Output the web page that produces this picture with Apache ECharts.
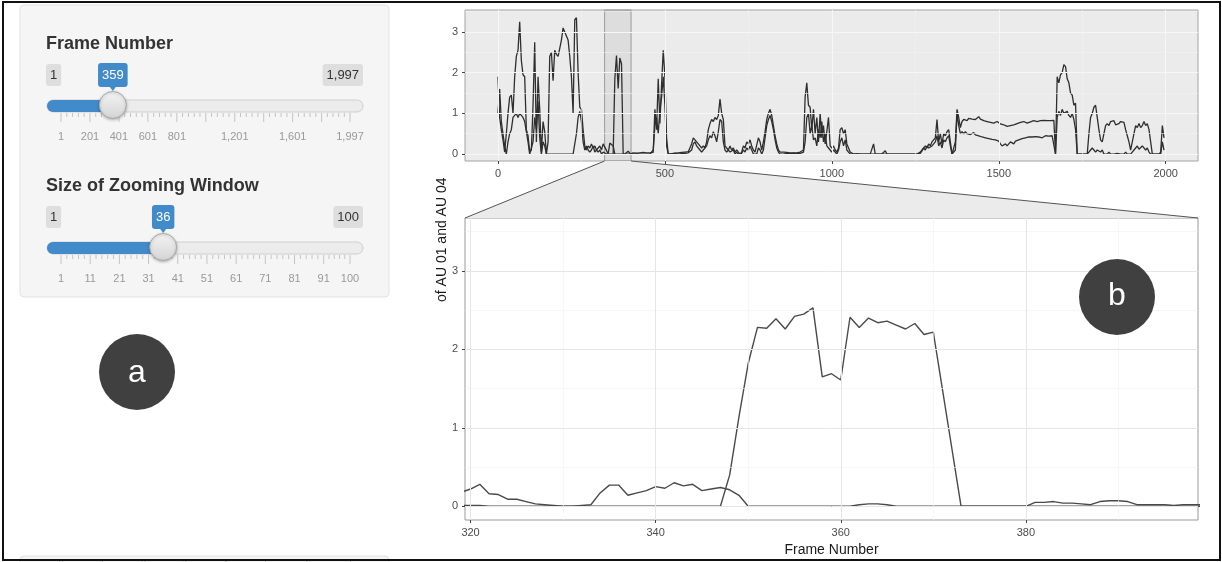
<!DOCTYPE html>
<html>
<head>
<meta charset="utf-8">
<title>AU 01 and AU 04 - zoom view</title>
<script src="https://cdn.jsdelivr.net/npm/echarts@6.0.0/dist/echarts.min.js"></script>
<style>
  html, body { margin: 0; padding: 0; background: #fff; }
  #chart { width: 1222px; height: 562px; }
</style>
</head>
<body>
<div id="chart"></div>
<script>
// overview: one reading every 5 frames
const ovStart = 0
const ovStep = 5
const au01Overview = [
  1.9, 0.9, 0.6, 0.35, 0.05, 0.5, 1.0, 1.4, 1.45, 1.0, 1.9, 2.4, 2.55, 3.25, 2.3, 1.95, 1.9, 0.6, 0.45, 0.05,
  0.1, 1.2, 2.75, 0.3, 1.9, 1.1, 0.05, 0.8, 0.55, 0.0, 0.3, 2.4, 2.5, 1.8, 2.55, 2.45, 2.4, 2.6, 2.8, 3.1,
  3.0, 2.9, 2.8, 2.4, 1.9, 1.0, 3.3, 3.35, 2.0, 1.15, 1.1, 0.6, 0.2, 0.1, 0.2, 0.15, 0.25, 0.15, 0.2, 0.1,
  0.05, 0.1, 0.0, 0.05, 0.01, 0.0, 0.0, 0.0, 0.0, 0.0, 1.85, 2.42, 1.61, 2.36, 2.22, 0.0, 0.0, 0.0, 0.0, 0.0,
  0.02, 0.03, 0.0, 0.02, 0.05, 0.03, 0.02, 0.04, 0.02, 0.03, 0.05, 0.03, 0.06, 0.04, 1.1, 0.6, 1.85, 0.75, 1.7, 2.55,
  1.9, 0.4, 0.0, 0.02, 0.0, 0.03, 0.02, 0.0, 0.03, 0.02, 0.04, 0.03, 0.05, 0.03, 0.06, 0.05, 0.25, 0.4, 0.35, 0.3,
  0.3, 0.2, 0.15, 0.2, 0.15, 0.3, 0.6, 0.75, 0.85, 0.8, 0.9, 0.85, 0.95, 1.35, 1.0, 0.85, 0.2, 0.15, 0.1, 0.2,
  0.1, 0.15, 0.05, 0.1, 0.05, 0.0, 0.05, 0.2, 0.15, 0.3, 0.25, 0.35, 0.2, 0.1, 0.05, 0.05, 0.4, 0.3, 0.1, 0.3,
  0.55, 0.85, 1.0, 1.1, 0.95, 0.7, 0.45, 0.25, 0.1, 0.05, 0.03, 0.05, 0.02, 0.04, 0.02, 0.03, 0.02, 0.03, 0.05, 0.03,
  0.03, 0.05, 0.02, 0.1, 1.4, 1.75, 1.2, 1.15, 0.6, 1.1, 0.5, 0.9, 0.3, 1.0, 0.4, 0.7, 0.25, 0.55, 0.9, 0.2,
  0.15, 0.2, 0.1, 0.05, 0.15, 0.6, 0.65, 0.5, 0.6, 0.25, 0.15, 0.05, 0.02, 0.0, 0.0, 0.01, 0.0, 0.0, 0.0, 0.0,
  0.0, 0.0, 0.0, 0.0, 0.0, 0.25, 0.0, 0.0, 0.0, 0.0, 0.0, 0.0, 0.08, 0.0, 0.0, 0.0, 0.0, 0.0, 0.0, 0.0,
  0.0, 0.0, 0.0, 0.0, 0.0, 0.0, 0.0, 0.0, 0.0, 0.0, 0.0, 0.0, 0.0, 0.05, 0.1, 0.12, 0.2, 0.15, 0.25, 0.2,
  0.3, 0.35, 0.4, 0.85, 0.3, 0.5, 0.25, 0.5, 0.45, 0.55, 0.6, 0.3, 0.0, 0.0, 0.3, 1.1, 0.9, 0.65, 0.8, 0.85,
  0.85, 0.82, 0.88, 0.84, 0.86, 0.9, 0.85, 0.88, 0.92, 0.86, 0.84, 0.82, 0.86, 0.8, 0.83, 0.78, 0.8, 0.76, 0.78, 0.8,
  0.78, 0.74, 0.76, 0.72, 0.7, 0.68, 0.72, 0.7, 0.74, 0.72, 0.7, 0.75, 0.73, 0.78, 0.75, 0.8, 0.78, 0.76, 0.8, 0.79,
  0.8, 0.82, 0.78, 0.8, 0.84, 0.82, 0.8, 0.83, 0.85, 0.82, 0.84, 0.82, 0.85, 0.83, 0.0, 1.9, 1.75, 1.95, 2.0, 2.2,
  2.15, 1.85, 1.75, 1.5, 1.45, 1.2, 1.25, 0.0, 0.0, 0.0, 0.0, 0.0, 0.0, 0.0, 0.5, 0.9, 1.0, 1.15, 1.2, 0.9,
  0.6, 0.35, 0.3, 0.5, 0.7, 0.75, 0.7, 0.8, 0.78, 0.82, 0.72, 0.7, 0.75, 0.8, 0.82, 0.78, 0.6, 0.45, 0.3, 0.1,
  0.1, 0.5, 0.7, 0.65, 0.75, 0.65, 0.7, 0.8, 0.7, 0.75, 0.6, 0.3, 0.0, 0.0, 0.0, 0.0, 0.0, 0.05, 0.7, 0.4
]
const au04Overview = [
  1.0, 1.6, 0.8, 0.5, 0.2, 0.0, 0.3, 0.5, 0.6, 0.9, 0.95, 1.0, 0.9, 1.0, 0.95, 0.9, 0.8, 0.55, 0.3, 0.0,
  0.0, 0.3, 0.9, 0.6, 1.3, 0.4, 0.0, 0.3, 0.2, 0.0, 0.0, 0.0, 0.0, 0.0, 0.0, 0.0, 0.0, 0.0, 0.0, 0.0,
  0.0, 0.0, 0.0, 0.0, 0.0, 0.0, 0.0, 0.5, 0.9, 1.05, 0.8, 0.3, 0.1, 0.2, 0.1, 0.05, 0.1, 0.2, 0.05, 0.1,
  0.15, 0.2, 0.1, 0.25, 0.22, 0.09, 0.0, 0.27, 0.25, 0.2, 0.0, 0.0, 0.0, 0.02, 0.0, 0.0, 0.0, 0.04, 0.07, 0.02,
  0.0, 0.0, 0.0, 0.0, 0.0, 0.0, 0.0, 0.0, 0.0, 0.0, 0.0, 0.0, 0.02, 0.1, 0.7, 0.9, 0.5, 1.1, 1.4, 1.9,
  1.2, 0.2, 0.0, 0.0, 0.01, 0.0, 0.02, 0.0, 0.0, 0.03, 0.01, 0.0, 0.02, 0.0, 0.03, 0.02, 0.1, 0.25, 0.3, 0.2,
  0.2, 0.1, 0.05, 0.1, 0.1, 0.2, 0.35, 0.45, 0.4, 0.55, 0.45, 0.3, 0.55, 0.85, 0.8, 0.3, 0.1, 0.05, 0.1, 0.05,
  0.05, 0.1, 0.0, 0.05, 0.0, 0.0, 0.02, 0.1, 0.05, 0.15, 0.1, 0.2, 0.1, 0.0, 0.0, 0.0, 0.15, 0.1, 0.0, 0.1,
  0.4, 0.7, 0.85, 0.95, 0.8, 0.6, 0.35, 0.15, 0.05, 0.0, 0.02, 0.0, 0.01, 0.02, 0.0, 0.01, 0.0, 0.02, 0.0, 0.01,
  0.0, 0.02, 0.0, 0.05, 0.3, 0.9, 1.0, 0.5, 0.7, 0.35, 0.4, 0.2, 0.6, 0.4, 0.8, 0.3, 0.5, 0.2, 0.15, 0.1,
  0.05, 0.1, 0.05, 0.0, 0.1, 0.3, 0.4, 0.2, 0.35, 0.1, 0.05, 0.0, 0.0, 0.0, 0.0, 0.0, 0.0, 0.0, 0.0, 0.0,
  0.0, 0.0, 0.0, 0.0, 0.0, 0.0, 0.0, 0.0, 0.0, 0.0, 0.0, 0.0, 0.0, 0.0, 0.0, 0.0, 0.0, 0.0, 0.0, 0.0,
  0.0, 0.0, 0.0, 0.0, 0.0, 0.0, 0.0, 0.0, 0.0, 0.0, 0.0, 0.0, 0.0, 0.02, 0.08, 0.15, 0.1, 0.2, 0.15, 0.18,
  0.2, 0.25, 0.3, 0.45, 0.2, 0.3, 0.15, 0.35, 0.3, 0.4, 0.45, 0.2, 0.0, 0.0, 0.1, 1.0, 0.7, 0.5, 0.55, 0.5,
  0.55, 0.5, 0.52, 0.48, 0.5, 0.53, 0.47, 0.5, 0.45, 0.47, 0.42, 0.45, 0.4, 0.43, 0.38, 0.4, 0.36, 0.38, 0.35, 0.37,
  0.32, 0.25, 0.2, 0.18, 0.25, 0.2, 0.25, 0.3, 0.28, 0.25, 0.32, 0.3, 0.35, 0.32, 0.38, 0.35, 0.4, 0.38, 0.42, 0.4,
  0.42, 0.4, 0.43, 0.45, 0.42, 0.44, 0.4, 0.43, 0.45, 0.42, 0.44, 0.46, 0.45, 0.43, 0.0, 0.9, 1.05, 0.95, 1.1, 1.0,
  1.0, 1.05, 0.95, 0.9, 1.0, 0.85, 0.6, 0.0, 0.0, 0.0, 0.0, 0.0, 0.0, 0.0, 0.05, 0.1, 0.15, 0.1, 0.05, 0.1,
  0.1, 0.05, 0.1, 0.0, 0.02, 0.0, 0.05, 0.0, 0.02, 0.0, 0.0, 0.02, 0.0, 0.0, 0.02, 0.0, 0.05, 0.0, 0.02, 0.0,
  0.05, 0.1, 0.15, 0.2, 0.12, 0.15, 0.2, 0.18, 0.1, 0.15, 0.05, 0.0, 0.0, 0.0, 0.0, 0.0, 0.0, 0.0, 0.3, 0.1
]

// zoomed window: one reading per frame, frames 319..399
const zoomStart = 319
const au01Zoom = [
  0.01, 0.01, 0.01, 0.0, 0.0, 0.0, 0.0, 0.0, 0.0, 0.0,
  0.0, 0.0, 0.0, 0.0, 0.0, 0.0, 0.0, 0.0, 0.0, 0.0,
  0.0, 0.0, 0.0, 0.0, 0.0, 0.0, 0.0, 0.0, 0.0, 0.4,
  1.14, 1.82, 2.28, 2.27, 2.39, 2.26, 2.42, 2.45, 2.53, 1.65,
  1.69, 1.61, 2.41, 2.28, 2.4, 2.34, 2.36, 2.31, 2.26, 2.33,
  2.19, 2.22, 1.48, 0.74, 0.0, 0.0, 0.0, 0.0, 0.0, 0.0,
  0.0, 0.0, 0.0, 0.0, 0.0, 0.0, 0.0, 0.0, 0.0, 0.0,
  0.0, 0.0, 0.0, 0.0, 0.0, 0.0, 0.0, 0.0, 0.0, 0.0, 0.0
]
const au04Zoom = [
  0.18, 0.22, 0.28, 0.16, 0.15, 0.09, 0.09, 0.06, 0.03, 0.02,
  0.01, 0.0, 0.0, 0.01, 0.02, 0.17, 0.27, 0.27, 0.14, 0.17,
  0.2, 0.25, 0.23, 0.3, 0.26, 0.28, 0.2, 0.22, 0.24, 0.21,
  0.14, 0.0, 0.0, 0.0, 0.0, 0.0, 0.0, 0.0, 0.0, 0.0,
  0.0, 0.0, 0.0, 0.02, 0.03, 0.03, 0.02, 0.0, 0.0, 0.0,
  0.0, 0.0, 0.0, 0.0, 0.0, 0.0, 0.0, 0.0, 0.0, 0.0,
  0.0, 0.0, 0.05, 0.05, 0.06, 0.04, 0.04, 0.03, 0.02, 0.06,
  0.07, 0.07, 0.06, 0.02, 0.02, 0.02, 0.02, 0.01, 0.02, 0.02, 0.02
]

const overviewTicksX = [0, 500, 1000, 1500, 2000]
const overviewMinorX = [250, 750, 1250, 1750]
const zoomTicksX = [320, 340, 360, 380]
const zoomMinorX = [330, 350, 370, 390]
const ticksY = [0, 1, 2, 3]
const minorY = [0.5, 1.5, 2.5, 3.5]

const frameSlider = {
  title: 'Frame Number', min: 1, max: 1997, value: 359,
  majors: [1, 201, 401, 601, 801, 1001, 1201, 1401, 1601, 1801, 1997],
  labels: [1, 201, 401, 601, 801, 1201, 1601, 1997]
}
const windowSlider = {
  title: 'Size of Zooming Window', min: 1, max: 100, value: 36,
  majors: [1, 11, 21, 31, 41, 51, 61, 71, 81, 91, 100],
  labels: [1, 11, 21, 31, 41, 51, 61, 71, 81, 91, 100]
}
const hiddenSliderLabels = ['0', '1', '2', '3', '4', '5', '6', '7']

const font = '"Liberation Sans", Arial, Helvetica, sans-serif'

const win = [frameSlider.value - windowSlider.value, frameSlider.value + windowSlider.value]
const winPad = (win[1] - win[0]) * 0.05
const zoomMin = win[0] - winPad
const zoomMax = win[1] + winPad

const ovGrid = { left: 465, top: 10, width: 733, height: 151 }
const zmGrid = { left: 465, top: 218, width: 733, height: 302 }

const pairs = (start, step, arr) => arr.map((v, i) => [start + i * step, v])

function guideLines(xMaj, xMin, yMaj, yMin, majStyle, minStyle) {
  const d = []
  xMin.forEach(v => d.push({ xAxis: v, lineStyle: minStyle }))
  yMin.forEach(v => d.push({ yAxis: v, lineStyle: minStyle }))
  xMaj.forEach(v => d.push({ xAxis: v, lineStyle: majStyle }))
  yMaj.forEach(v => d.push({ yAxis: v, lineStyle: majStyle }))
  return {
    silent: true, symbol: ['none', 'none'], label: { show: false },
    emphasis: { disabled: true }, animation: false, data: d
  }
}

function valueAxis(gridIndex, min, max, ticks, extra) {
  return Object.assign({
    type: 'value', gridIndex, min, max, z: 5,
    axisLine: { show: false, onZero: false },
    splitLine: { show: false },
    axisTick: { show: true, length: 3, customValues: ticks, lineStyle: { color: '#444', width: 1 } },
    axisLabel: {
      customValues: ticks, color: '#4d4d4d', fontSize: 11, margin: 7, fontFamily: font,
      formatter: v => String(v)
    }
  }, extra || {})
}

function lineSeries(axis, data, color, width) {
  return {
    type: 'line', xAxisIndex: axis, yAxisIndex: axis, data, z: 3,
    showSymbol: false, symbol: 'none', clip: true, silent: true,
    lineStyle: { color, width }
  }
}

const chart = echarts.init(document.getElementById('chart'))

chart.setOption({
  animation: false,
  backgroundColor: '#fff',
  textStyle: { fontFamily: font },
  grid: [
    Object.assign({ show: true, backgroundColor: '#ebebeb', borderColor: '#a3a3a3', borderWidth: 1, containLabel: false, outerBoundsMode: 'none' }, ovGrid),
    Object.assign({ show: true, backgroundColor: '#fff', borderColor: '#9a9a9a', borderWidth: 1, containLabel: false, outerBoundsMode: 'none' }, zmGrid)
  ],
  xAxis: [
    valueAxis(0, -98.8, 2096.8, overviewTicksX),
    valueAxis(1, zoomMin, zoomMax, zoomTicksX, {
      name: 'Frame Number', nameLocation: 'middle', nameGap: 23,
      nameTextStyle: { color: '#1a1a1a', fontSize: 14, fontFamily: font }
    })
  ],
  yAxis: [
    valueAxis(0, -0.17, 3.54, ticksY),
    valueAxis(1, -0.175, 3.675, ticksY)
  ],
  series: [
    {
      type: 'line', xAxisIndex: 0, yAxisIndex: 0, data: [], z: 1, silent: true,
      markLine: guideLines(overviewTicksX, overviewMinorX, ticksY, minorY,
        { color: '#f6f6f6', width: 1, type: 'solid' }, { color: '#f1f1f1', width: 0.6, type: 'solid' }),
      markArea: {
        silent: true,
        itemStyle: { color: 'rgba(0,0,0,0.06)', borderColor: '#9a9a9a', borderWidth: 1 },
        data: [[{ xAxis: zoomMin }, { xAxis: zoomMax }]]
      }
    },
    lineSeries(0, pairs(ovStart, ovStep, au01Overview), '#2e2e2e', 1.3),
    lineSeries(0, pairs(ovStart, ovStep, au04Overview), '#2e2e2e', 1.3),
    {
      type: 'line', xAxisIndex: 1, yAxisIndex: 1, data: [], z: 1, silent: true,
      markLine: guideLines(zoomTicksX, zoomMinorX, ticksY, minorY,
        { color: '#e6e6e6', width: 1, type: 'solid' }, { color: '#f2f2f2', width: 0.6, type: 'solid' })
    },
    lineSeries(1, pairs(zoomStart, 1, au01Zoom), '#4a4a4a', 1.4),
    lineSeries(1, pairs(zoomStart, 1, au04Zoom), '#4a4a4a', 1.4)
  ]
})

function txt(x, y, text, style, extra) {
  return Object.assign({
    type: 'text', x, y, z: 50,
    style: Object.assign({
      text, fill: '#333', fontSize: 13, fontFamily: font,
      align: 'center', verticalAlign: 'middle', textAlign: 'center', textVerticalAlign: 'middle'
    }, style || {})
  }, extra || {})
}

const badgeWidth = s => s.split('').reduce((w, c) => w + (c === ',' ? 3.6 : 7.2), 8)

function sliderParts(s, top) {
  const left = 47, right = 363, x0 = 61, x1 = 350
  const px = v => x0 + (v - s.min) / (s.max - s.min) * (x1 - x0)
  const fmt = v => v.toLocaleString('en-US')
  const hx = px(s.value)
  const out = []

  out.push(txt(46, top - 20, s.title, { fontSize: 18, fontWeight: 'bold', align: 'left', textAlign: 'left', fill: '#333' }))

  const minW = badgeWidth(fmt(s.min)), maxW = badgeWidth(fmt(s.max)), valW = badgeWidth(fmt(s.value))
  out.push({ type: 'rect', z: 40, shape: { x: 46, y: top, width: minW, height: 22, r: 3 }, style: { fill: '#dedede' } })
  out.push(txt(46 + minW / 2, top + 11, fmt(s.min)))
  out.push({ type: 'rect', z: 40, shape: { x: right - maxW, y: top, width: maxW, height: 22, r: 3 }, style: { fill: '#dedede' } })
  out.push(txt(right - maxW / 2, top + 11, fmt(s.max)))
  out.push({ type: 'rect', z: 40, shape: { x: hx - valW / 2, y: top - 1, width: valW, height: 24, r: 3 }, style: { fill: '#428bca' } })
  out.push({ type: 'polygon', z: 40, shape: { points: [[hx - 3, top + 23], [hx + 3, top + 23], [hx, top + 27]] }, style: { fill: '#428bca' } })
  out.push(txt(hx, top + 11, fmt(s.value), { fill: '#fff' }))

  out.push({ type: 'rect', z: 40, shape: { x: left, y: top + 36, width: right - left, height: 12, r: 6 }, style: { fill: '#ececec', stroke: '#cfcfcf', lineWidth: 1 } })
  out.push({ type: 'rect', z: 41, shape: { x: left, y: top + 36, width: hx - left, height: 12, r: [6, 0, 0, 6] }, style: { fill: '#428bca' } })

  s.majors.forEach((v, i) => {
    out.push({ type: 'line', z: 40, shape: { x1: px(v), y1: top + 49, x2: px(v), y2: top + 58 }, style: { stroke: '#c4c4c4', lineWidth: 1 } })
    const next = s.majors[i + 1]
    if (next !== undefined) {
      for (let k = 1; k < 5; k++) {
        const mx = px(v) + (px(next) - px(v)) * k / 5
        out.push({ type: 'line', z: 40, shape: { x1: mx, y1: top + 49, x2: mx, y2: top + 53 }, style: { stroke: '#c4c4c4', lineWidth: 1 } })
      }
    }
  })
  s.labels.forEach(v => out.push(txt(px(v), top + 73, fmt(v), { fill: '#999', fontSize: 11 })))

  out.push({
    type: 'circle', z: 45, shape: { cx: hx, cy: top + 41, r: 13.5 },
    style: {
      fill: { type: 'linear', x: 0, y: 0, x2: 0, y2: 1, colorStops: [{ offset: 0, color: '#f4f4f4' }, { offset: 1, color: '#d4d4d4' }] },
      stroke: '#a9a9a9', lineWidth: 1, shadowBlur: 3, shadowColor: 'rgba(0,0,0,0.25)', shadowOffsetY: 1
    }
  })
  return out
}

const xLo = chart.convertToPixel({ xAxisIndex: 0 }, zoomMin)
const xHi = chart.convertToPixel({ xAxisIndex: 0 }, zoomMax)
const ovBottom = ovGrid.top + ovGrid.height
const zmRight = zmGrid.left + zmGrid.width

const elements = [
  // shiny sidebar well
  { type: 'rect', z: 30, shape: { x: 20, y: 5, width: 369, height: 292, r: 4 }, style: { fill: '#f5f5f5', stroke: '#e3e3e3', lineWidth: 1 } },
  { type: 'rect', z: 30, shape: { x: 20, y: 556, width: 369, height: 12, r: 4 }, style: { fill: '#f5f5f5', stroke: '#e3e3e3', lineWidth: 1 } },
  ...hiddenSliderLabels.map((t, i) => txt(61 + i * 41.2, 559, t, { fill: '#c8c8c8', fontSize: 9, verticalAlign: 'top', textVerticalAlign: 'top' })),
  ...sliderParts(frameSlider, 64),
  ...sliderParts(windowSlider, 206),

  // link between the highlighted window and the zoomed panel
  { type: 'polygon', z: 1, shape: { points: [[xLo, ovBottom], [xHi, ovBottom], [zmRight, zmGrid.top], [zmGrid.left, zmGrid.top]] }, style: { fill: '#ebebeb' } },
  { type: 'line', z: 2, shape: { x1: xLo, y1: ovBottom, x2: zmGrid.left, y2: zmGrid.top }, style: { stroke: '#555', lineWidth: 1 } },
  { type: 'line', z: 2, shape: { x1: xHi, y1: ovBottom, x2: zmRight, y2: zmGrid.top }, style: { stroke: '#555', lineWidth: 1 } },

  // y title of the zoomed panel (cut off in the source)
  txt(442, 302, 'of AU 01 and AU 04', { fill: '#1a1a1a', fontSize: 14, align: 'left', textAlign: 'left' }, { rotation: Math.PI / 2 }),

  // panel markers
  { type: 'circle', z: 100, shape: { cx: 137, cy: 372, r: 38 }, style: { fill: '#404040' } },
  txt(137, 373, 'a', { fill: '#fff', fontSize: 32 }, { z: 101 }),
  { type: 'circle', z: 100, shape: { cx: 1117, cy: 297, r: 38 }, style: { fill: '#404040' } },
  txt(1117, 296, 'b', { fill: '#fff', fontSize: 32 }, { z: 101 }),

  // outer frame
  { type: 'rect', z: 120, shape: { x: 3, y: 2, width: 1217, height: 558 }, style: { fill: 'none', stroke: '#111', lineWidth: 2 } }
]

chart.setOption({ graphic: { elements } })
</script>
</body>
</html>
